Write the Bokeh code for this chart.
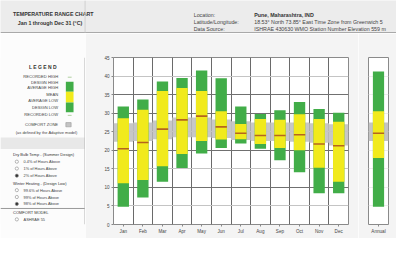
from bokeh.plotting import figure
from bokeh.models import Range1d, FixedTicker, Grid
from bokeh.layouts import column, row
from bokeh.embed import file_html
from bokeh.resources import INLINE
from bokeh.core.properties import value

# ---------------- data (°C) ----------------
months = ["Jan", "Feb", "Mar", "Apr", "May", "Jun", "Jul", "Aug", "Sep", "Oct", "Nov", "Dec"]
design_high = [31.8, 33.7, 38.5, 39.5, 41.5, 39.4, 31.8, 29.8, 30.8, 33.0, 31.1, 30.1]
average_high = [28.6, 30.9, 36.0, 36.8, 36.0, 30.5, 27.1, 28.4, 28.2, 29.7, 28.4, 27.7]
mean_temp = [20.4, 22.1, 25.7, 28.2, 29.2, 26.3, 24.6, 24.0, 24.0, 24.2, 21.7, 21.2]
average_low = [11.1, 12.0, 15.7, 19.0, 22.5, 22.9, 23.0, 21.7, 20.6, 20.0, 15.3, 11.5]
design_low = [4.8, 7.3, 11.5, 15.2, 19.1, 20.6, 21.8, 20.4, 17.3, 14.1, 8.4, 8.4]
comfort_low = [22.3, 22.5, 23.0, 23.5, 23.5, 23.3, 22.8, 22.5, 22.5, 22.3, 22.0, 21.3]
comfort_high = [27.3, 27.5, 28.0, 28.8, 28.8, 28.3, 27.8, 27.5, 27.5, 27.5, 27.3, 27.0]

annual_label = ["Annual"]
annual_design_high = [41.2]
annual_average_high = [30.5]
annual_mean = [24.6]
annual_average_low = [17.9]
annual_design_low = [4.8]
annual_comfort_low = [22.5]
annual_comfort_high = [27.5]

y_ticks = [0, 5, 10, 15, 20, 25, 30, 35, 40, 45]
dark_grid = [10, 20, 30, 35]
light_grid = [5, 15, 25, 40]

legend_rows = ["RECORDED HIGH", "DESIGN HIGH", "AVERAGE HIGH", "MEAN",
               "AVERAGE LOW", "DESIGN LOW", "RECORDED LOW"]

GREEN = "#41ad48"
YELLOW = "#f1ea1c"
MEAN_C = "#b5651d"
COMFORT = "#c4c4c4"
FONT = value("Liberation Sans")


def blank(w, h, xr, yr, bg):
    f = figure(width=w, height=h, x_range=xr, y_range=yr, output_backend="svg",
               toolbar_location=None, min_border=0)
    f.axis.visible = False
    f.grid.visible = False
    f.outline_line_color = None
    f.background_fill_color = bg
    f.border_fill_color = bg
    return f


# ---------------- header ----------------
hdr = blank(396, 33, Range1d(0, 412), Range1d(35.2, 0), "#ececec")
hdr.text(x=[13, 18], y=[14, 24],
         text=["TEMPERATURE RANGE CHART", "Jan 1 through Dec 31 (°C)"],
         text_font=FONT, text_font_size="5.3px", text_baseline="middle",
         text_color="#333333", text_font_style="bold")
hdr.text(x=[201, 201, 201], y=[15, 23.3, 30.7],
         text=["Location:", "Latitude/Longitude:", "Data Source:"],
         text_font=FONT, text_font_size="5.3px", text_baseline="middle",
         text_color="#444444")
hdr.text(x=[264], y=[15], text=["Pune, Maharashtra, IND"],
         text_font=FONT, text_font_size="5.3px", text_baseline="middle",
         text_color="#333333", text_font_style="bold")
hdr.text(x=[264, 264], y=[23.3, 30.7],
         text=["18.53° North   73.85° East   Time Zone from Greenwich 5",
               "ISHRAE   430630 WMO Station Number   Elevation 559 m"],
         text_font=FONT, text_font_size="5.3px", text_baseline="middle",
         text_color="#444444")
hdr.segment(x0=[0], y0=[34.4], x1=[412], y1=[34.4], line_color="#a9a9a9", line_width=1.6)
hdr.segment(x0=[88], y0=[0], x1=[88], y1=[34], line_color="#d0d0d0", line_width=1)

# ---------------- legend panel ----------------
leg = blank(85, 205, Range1d(0, 88.45), Range1d(254, 35.2), "#fcfcfc")
leg.text(x=[44], y=[47], text=["L E G E N D"], text_font=FONT, text_font_size="5px",
         text_align="center", text_baseline="middle", text_font_style="bold",
         text_color="#333333")
leg.text(x=[60] * 7, y=[60, 67.3, 75, 83.3, 91.7, 101, 110], text=legend_rows,
         text_font=FONT, text_font_size="4.1px", text_align="right",
         text_baseline="middle", text_color="#444444")
# legend swatch
leg.quad(left=[68], right=[76], top=[67], bottom=[80], color=GREEN, line_color=None)
leg.quad(left=[68], right=[76], top=[80], bottom=[94], color=YELLOW, line_color=None)
leg.quad(left=[68], right=[76], top=[94], bottom=[107], color=GREEN, line_color=None)
leg.segment(x0=[70, 70], y0=[61, 111], x1=[74, 74], y1=[61, 111],
            line_color="#b0d0a0", line_width=1)
leg.text(x=[60], y=[123], text=["COMFORT ZONE"], text_font=FONT, text_font_size="4.1px",
         text_align="right", text_baseline="middle", text_color="#444444")
leg.quad(left=[68], right=[73.5], top=[120.5], bottom=[126], color=COMFORT,
         line_color="#999999", line_width=0.6)
leg.text(x=[48], y=[134], text=["(as defined by the Adaptive model)"], text_font=FONT,
         text_font_size="4px", text_align="center", text_baseline="middle",
         text_color="#444444")
leg.quad(left=[0], right=[88], top=[140], bottom=[155], color="#e8e8e8", line_color=None)
leg.text(x=[13, 13, 13], y=[161.7, 200, 238.3],
         text=["Dry Bulb Temp - (Summer Design)", "Winter Heating - (Design Low)",
               "COMFORT MODEL"],
         text_font=FONT, text_font_size="4px", text_baseline="middle", text_color="#333333")
opt_y = [171.7, 180.7, 190, 209, 218, 227, 247.3]
leg.text(x=[24] * 7, y=opt_y,
         text=["0.4% of Hours Above", "1% of Hours Above", "2% of Hours Above",
               "99.6% of Hours Above", "99% of Hours Above", "98% of Hours Above",
               "ASHRAE 55"],
         text_font=FONT, text_font_size="3.9px", text_baseline="middle", text_color="#444444")
leg.scatter(x=[17] * 7, y=opt_y, size=3.2, marker="circle",
            fill_color=["white", "white", "#333333", "white", "white", "#333333", "white"],
            line_color="#888888", line_width=0.6)
leg.segment(x0=[0], y0=[233], x1=[88], y1=[233], line_color="#9a9a9a", line_width=1)
leg.segment(x0=[88], y0=[35.2], x1=[88], y1=[254], line_color="#b8b8b8", line_width=1.2)


# ---------------- main chart ----------------
def style_chart(f):
    f.background_fill_color = "white"
    f.border_fill_color = "#f4f4f4"
    f.outline_line_color = "#8a8a8a"
    f.outline_line_width = 1
    f.xaxis.axis_line_color = None
    f.yaxis.axis_line_color = None
    f.axis.minor_tick_line_color = None
    f.axis.major_tick_line_color = "#888888"
    f.axis.major_tick_in = 0
    f.axis.major_tick_out = 2
    f.axis.major_label_standoff = 2
    f.axis.major_label_text_font = "Liberation Sans"
    f.axis.major_label_text_font_size = "4.6px"
    f.axis.major_label_text_color = "#444444"


main = figure(width=273, height=205, x_range=Range1d(0, 12), y_range=Range1d(0, 45),
              output_backend="svg", toolbar_location=None,
              min_border_left=28, min_border_right=10, min_border_top=24, min_border_bottom=14)
style_chart(main)
xc = [i + 0.5 for i in range(len(months))]
main.xaxis.ticker = FixedTicker(ticks=xc)
main.xaxis.major_label_overrides = {c: m for c, m in zip(xc, months)}
main.yaxis.ticker = FixedTicker(ticks=y_ticks)
main.xgrid.ticker = FixedTicker(ticks=list(range(len(months) + 1)))
main.xgrid.grid_line_color = "#6a6a6a"
main.ygrid.ticker = FixedTicker(ticks=dark_grid)
main.ygrid.grid_line_color = "#707070"
main.add_layout(Grid(dimension=1, ticker=FixedTicker(ticks=light_grid), grid_line_color="#c4c4c4"))

main.quad(left=list(range(len(months))), right=list(range(1, len(months) + 1)),
          bottom=comfort_low, top=comfort_high, color=COMFORT, line_color=None, alpha=0.95)
main.vbar(x=xc, width=0.58, bottom=design_low, top=design_high, color=GREEN, line_color=None)
main.vbar(x=xc, width=0.58, bottom=average_low, top=average_high, color=YELLOW, line_color=None)
main.rect(x=xc, y=mean_temp, width=0.58, height=1.6, height_units="screen",
          color=MEAN_C, line_color=None)

# ---------------- annual ----------------
ann = figure(width=38, height=205, x_range=Range1d(0, 1), y_range=Range1d(0, 45),
             output_backend="svg", toolbar_location=None,
             min_border_left=10, min_border_right=8, min_border_top=24, min_border_bottom=14)
style_chart(ann)
ann.yaxis.visible = False
ann.xaxis.ticker = FixedTicker(ticks=[0.5])
ann.xaxis.major_label_overrides = {0.5: annual_label[0]}
ann.xgrid.grid_line_color = None
ann.ygrid.ticker = FixedTicker(ticks=y_ticks)
ann.ygrid.grid_line_color = "#ececec"
ann.quad(left=[0], right=[1], bottom=annual_comfort_low, top=annual_comfort_high,
         color=COMFORT, line_color=None)
ann.vbar(x=[0.5], width=0.56, bottom=annual_design_low, top=annual_design_high,
         color=GREEN, line_color=None)
ann.vbar(x=[0.5], width=0.56, bottom=annual_average_low, top=annual_average_high,
         color=YELLOW, line_color=None)
ann.rect(x=[0.5], y=annual_mean, width=0.56, height=1.6, height_units="screen",
         color=MEAN_C, line_color=None)

layout = column(hdr, row(leg, main, ann, spacing=0), spacing=0)
open("out.html", "w").write(file_html(layout, INLINE))
